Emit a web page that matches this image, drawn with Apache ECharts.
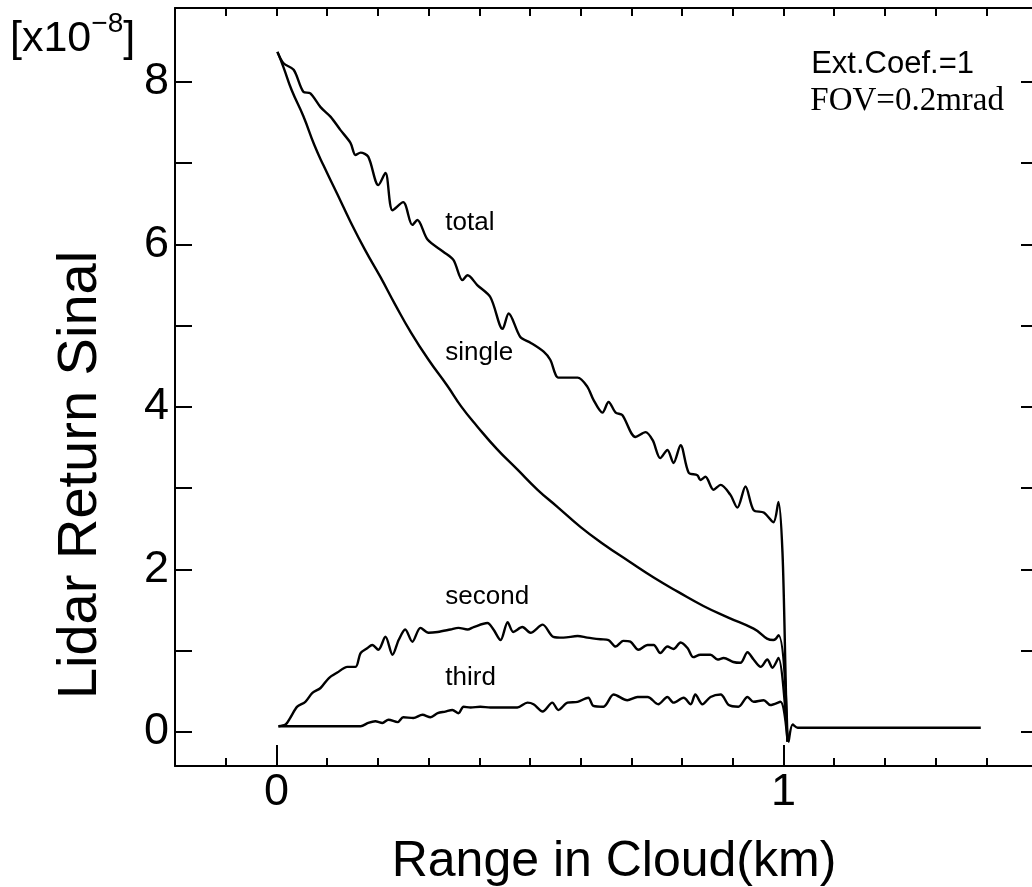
<!DOCTYPE html>
<html>
<head>
<meta charset="utf-8">
<script src="https://cdn.jsdelivr.net/npm/echarts@6/dist/echarts.min.js"></script>
<style>html,body{margin:0;padding:0;background:#fff}#c{width:1032px;height:887px}</style>
</head>
<body>
<div id="c"></div>
<script>
// ---- data (range in km, signal in 1e-8) ----
const totalData = [
 [0.002,8.37],[0.014,8.23],[0.034,8.15],[0.053,7.88],[0.067,7.86],[0.087,7.69],[0.107,7.57],
 [0.126,7.41],[0.146,7.25],[0.156,7.10],[0.166,7.13],[0.181,7.08],[0.201,6.73],[0.215,6.88],
 [0.229,6.42],[0.250,6.52],[0.268,6.24],[0.278,6.30],[0.298,6.06],[0.329,5.91],[0.349,5.81],
 [0.367,5.56],[0.377,5.62],[0.396,5.50],[0.422,5.35],[0.446,4.96],[0.458,5.15],[0.481,4.86],
 [0.501,4.79],[0.527,4.68],[0.540,4.58],[0.556,4.36],[0.574,4.36],[0.594,4.36],[0.613,4.25],
 [0.625,4.09],[0.643,3.93],[0.655,4.06],[0.669,3.93],[0.682,3.90],[0.708,3.63],[0.728,3.69],
 [0.742,3.59],[0.757,3.37],[0.771,3.47],[0.783,3.31],[0.797,3.53],[0.813,3.19],[0.830,3.16],
 [0.836,3.10],[0.846,3.14],[0.862,2.98],[0.876,3.04],[0.895,2.92],[0.909,2.76],[0.925,3.02],
 [0.941,2.73],[0.961,2.70],[0.980,2.58],[0.990,2.83],[0.998,2.20],[1.010,-0.12],[1.018,0.09],
 [1.028,0.05],[1.389,0.05]
];
const singleData = [
 [0.002,8.37],[0.014,8.18],[0.030,7.90],[0.053,7.58],[0.075,7.22],[0.093,6.97],[0.120,6.62],
 [0.146,6.28],[0.175,5.93],[0.205,5.60],[0.235,5.25],[0.264,4.93],[0.300,4.58],[0.337,4.26],
 [0.365,4.00],[0.396,3.76],[0.435,3.48],[0.475,3.23],[0.515,2.98],[0.554,2.77],[0.600,2.52],
 [0.645,2.31],[0.695,2.10],[0.744,1.90],[0.793,1.72],[0.842,1.55],[0.890,1.41],[0.941,1.27],
 [0.980,1.13],[0.990,1.19],[1.008,-0.12]
];
const secondData = [
 [0.004,0.07],[0.018,0.09],[0.028,0.18],[0.041,0.31],[0.057,0.37],[0.071,0.48],[0.087,0.54],
 [0.103,0.66],[0.120,0.73],[0.140,0.80],[0.156,0.80],[0.166,0.97],[0.179,1.03],[0.189,1.07],
 [0.201,1.01],[0.215,1.17],[0.229,0.95],[0.241,1.13],[0.254,1.26],[0.268,1.11],[0.284,1.28],
 [0.300,1.22],[0.318,1.23],[0.343,1.26],[0.359,1.28],[0.377,1.26],[0.389,1.29],[0.416,1.34],
 [0.428,1.26],[0.442,1.13],[0.456,1.35],[0.467,1.23],[0.485,1.29],[0.501,1.22],[0.525,1.32],
 [0.546,1.17],[0.566,1.16],[0.594,1.18],[0.613,1.16],[0.639,1.14],[0.655,1.13],[0.669,1.05],
 [0.684,1.12],[0.698,1.11],[0.714,1.01],[0.732,1.07],[0.744,1.07],[0.757,0.97],[0.771,1.05],
 [0.783,1.02],[0.797,1.10],[0.811,1.03],[0.822,0.92],[0.836,0.95],[0.856,0.95],[0.870,0.89],
 [0.882,0.91],[0.901,0.86],[0.915,0.85],[0.929,0.98],[0.941,0.89],[0.955,0.80],[0.968,0.89],
 [0.978,0.79],[0.990,0.91],[1.008,-0.12]
];
const thirdData = [
 [0.004,0.07],[0.166,0.07],[0.181,0.11],[0.195,0.13],[0.209,0.11],[0.221,0.15],[0.239,0.12],
 [0.250,0.18],[0.270,0.17],[0.288,0.21],[0.304,0.18],[0.318,0.23],[0.333,0.25],[0.347,0.27],
 [0.359,0.23],[0.369,0.31],[0.383,0.30],[0.402,0.31],[0.422,0.30],[0.448,0.30],[0.475,0.30],
 [0.495,0.36],[0.507,0.34],[0.525,0.25],[0.544,0.36],[0.556,0.27],[0.574,0.36],[0.594,0.37],
 [0.615,0.42],[0.625,0.32],[0.645,0.31],[0.665,0.46],[0.692,0.39],[0.712,0.43],[0.732,0.43],
 [0.753,0.34],[0.771,0.43],[0.783,0.36],[0.803,0.42],[0.817,0.34],[0.826,0.46],[0.840,0.34],
 [0.856,0.43],[0.876,0.46],[0.892,0.33],[0.911,0.31],[0.929,0.43],[0.941,0.37],[0.961,0.39],
 [0.974,0.33],[0.994,0.37],[1.008,-0.12]
];
const xMinorTicks = [-0.1,0,0.1,0.2,0.3,0.4,0.5,0.6,0.7,0.8,0.9,1,1.1,1.2,1.3,1.4];
const xMajorTicks = [0,1];
const yTicks = [0,1,2,3,4,5,6,7,8];
const yLabels = [0,2,4,6,8];
const curveLabels = [
 {text:'total',  x:0.333, y:6.27},
 {text:'single', x:0.333, y:4.67},
 {text:'second', x:0.333, y:1.66},
 {text:'third',  x:0.333, y:0.66}
];

const SANS = '"Liberation Sans", Arial, Helvetica, sans-serif';
const SERIF = '"Liberation Serif", "Times New Roman", serif';
const X_MIN = -0.2, X_MAX = 1.49, Y_MIN = -0.42, Y_MAX = 8.91;
const black = '#000';
const gridPos = {left:175, right:0, top:8, bottom:121};

const chart = echarts.init(document.getElementById('c'), null, {renderer:'canvas'});

function lineSeries(name, data, smooth){
  return {
    name, type:'line', data, xAxisIndex:0, yAxisIndex:0,
    showSymbol:false, symbol:'none', smooth:smooth,
    lineStyle:{color:black, width:2.4}, silent:true, z:5
  };
}

const option = {
  animation:false,
  backgroundColor:'#fff',
  grid:[Object.assign({}, gridPos), Object.assign({}, gridPos)],
  xAxis:[
    {type:'value', gridIndex:0, position:'bottom', min:X_MIN, max:X_MAX,
     axisLine:{show:true, onZero:false, lineStyle:{color:black, width:2}},
     axisTick:{show:true, inside:true, length:8, lineStyle:{color:black, width:2}, customValues:xMinorTicks},
     axisLabel:{show:true, customValues:xMajorTicks, margin:4, color:black, fontSize:45, fontFamily:SANS},
     splitLine:{show:false}},
    {type:'value', gridIndex:0, position:'top', min:X_MIN, max:X_MAX,
     axisLine:{show:true, onZero:false, lineStyle:{color:black, width:2}},
     axisTick:{show:true, inside:true, length:8, lineStyle:{color:black, width:2}, customValues:xMinorTicks},
     axisLabel:{show:false}, splitLine:{show:false}},
    {type:'value', gridIndex:1, position:'bottom', min:X_MIN, max:X_MAX,
     axisLine:{show:false, onZero:false},
     axisTick:{show:true, inside:true, length:21, lineStyle:{color:black, width:2}, customValues:xMajorTicks},
     axisLabel:{show:false}, splitLine:{show:false}}
  ],
  yAxis:[
    {type:'value', gridIndex:0, position:'left', min:Y_MIN, max:Y_MAX,
     axisLine:{show:true, onZero:false, lineStyle:{color:black, width:2}},
     axisTick:{show:true, inside:true, length:17, lineStyle:{color:black, width:2}, customValues:yTicks},
     axisLabel:{show:true, customValues:yLabels, margin:6, color:black, fontSize:45, fontFamily:SANS},
     splitLine:{show:false}},
    {type:'value', gridIndex:0, position:'right', min:Y_MIN, max:Y_MAX,
     axisLine:{show:false, onZero:false},
     axisTick:{show:true, inside:true, length:11, lineStyle:{color:black, width:2}, customValues:yTicks},
     axisLabel:{show:false}, splitLine:{show:false}},
    {type:'value', gridIndex:1, position:'left', min:Y_MIN, max:Y_MAX, show:false,
     axisLine:{onZero:false}}
  ],
  series:[
    lineSeries('total', totalData, 0.3),
    lineSeries('single', singleData, 0.5),
    lineSeries('second', secondData, 0.3),
    lineSeries('third', thirdData, 0.3)
  ],
  graphic:[
    {id:'unit', type:'text', left:10, top:10, style:{
      text:'[x10{sup|−8}]', fill:black, fontFamily:SANS, fontSize:43, lineHeight:58,
      rich:{sup:{fontSize:28, lineHeight:28, fontFamily:SANS, fill:black, verticalAlign:'top'}}
    }},
    {id:'ytitle', type:'text', x:81, y:475, rotation:Math.PI/2, style:{
      text:'Lidar Return Sinal', fill:black, fontFamily:SANS, fontSize:56,
      align:'center', verticalAlign:'middle'
    }},
    {id:'xtitle', type:'text', x:614, y:862, style:{
      text:'Range in Cloud(km)', fill:black, fontFamily:SANS, fontSize:50,
      align:'center', verticalAlign:'middle'
    }},
    {id:'ext', type:'text', x:974, y:64, style:{
      text:'Ext.Coef.=1', fill:black, fontFamily:SANS, fontSize:31,
      align:'right', verticalAlign:'middle'
    }},
    {id:'fov', type:'text', x:1004, y:101, style:{
      text:'FOV=0.2mrad', fill:black, fontFamily:SERIF, fontSize:33,
      align:'right', verticalAlign:'middle'
    }}
  ]
};
chart.setOption(option);

// curve name labels placed through the chart's own coordinate system
const labelGraphics = curveLabels.map((d, i) => {
  const p = chart.convertToPixel({xAxisIndex:0, yAxisIndex:0}, [d.x, d.y]);
  return {id:'cl'+i, type:'text', x:p[0], y:p[1], z:10, style:{
    text:d.text, fill:black, fontFamily:SANS, fontSize:26, align:'left', verticalAlign:'middle'
  }};
});
chart.setOption({graphic:labelGraphics});
</script>
</body>
</html>
